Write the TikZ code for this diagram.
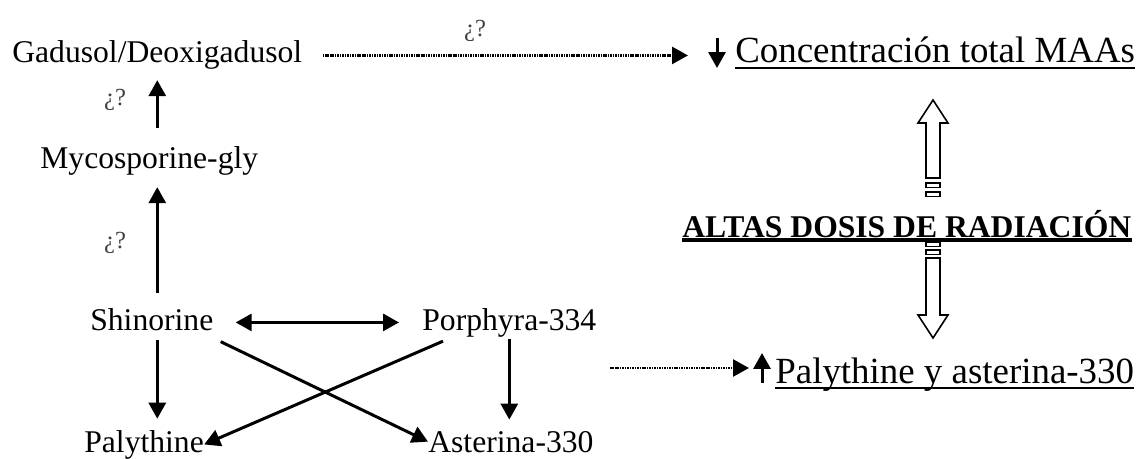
\documentclass[tikz,border=0pt]{standalone}
\usepackage{fontspec}
\setmainfont{Liberation Serif}
\usepackage{xcolor}
\usepackage{tikz}
\usetikzlibrary{arrows.meta,positioning,calc}

\tikzset{
  lbl/.style={inner sep=0pt, anchor=base west, font=\fontsize{18}{20}\selectfont},
  big/.style={inner sep=0pt, anchor=base west, font=\fontsize{21}{24}\selectfont},
  qm/.style={inner sep=0pt, font=\fontsize{14}{16}\selectfont, text=black!75},
  arr/.style={line width=1.7pt, ->},
  dots/.style={line width=1.5pt, dash pattern=on 0.9pt off 0.5pt, ->},
  hollow/.style={draw, line width=0.9pt, fill=white}
}

\begin{document}
\begin{tikzpicture}[x=0.02cm, y=-0.02cm, >={Triangle[length=0.32cm,width=0.34cm]}]
  \useasboundingbox (0,0) rectangle (1142,459);

  % Compounds
  \node[lbl] (gad) at (12,63) {Gadusol/Deoxigadusol};
  \node[lbl] (myco) at (40,169) {Mycosporine-gly};
  \node[lbl] (shin) at (90,330) {Shinorine};
  \node[lbl] (por) at (422,330) {Porphyra-334};
  \node[lbl] (paly) at (84,452) {Palythine};
  \node[lbl] (aster) at (428,452) {Asterina-330};

  % Effects
  \node[big] (conc) at (735,63) {Concentración total MAAs};
  \node[big] (pa330) at (775,383) {Palythine y asterina-330};
  \node[lbl, font=\bfseries\fontsize{18}{20}\selectfont] (dosis) at (682,237) {ALTAS DOSIS DE RADIACIÓN};

  % Pathway
  \draw[arr, shorten <=0.38cm, shorten >=0.2cm] (myco.north -| gad.south) -- (gad.south);
  \draw[arr, shorten <=0.3cm, shorten >=0.22cm] (shin.north -| gad.south) -- (myco.south -| gad.south);
  \draw[<->, line width=1.7pt, shorten <=0.44cm, shorten >=0.46cm] (por.west -| shin.east) -- (por.west);
  \draw[arr, shorten <=0.18cm, shorten >=0.22cm] (shin.south -| gad.south) -- (paly.north -| gad.south);
  \draw[arr, shorten <=0.04cm, shorten >=0.22cm] (por.south) -- (aster.north -| por.south);
  \draw[arr] ([xshift=0.14cm, yshift=-0.22cm]shin.south east) -- (aster.west);
  \draw[arr] ([xshift=0.42cm, yshift=-0.08cm]por.south west) -- (paly.east);

  \node[qm] (q1) at (475,31) {¿?};
  \node[qm] (q2) at (115,100) {¿?};
  \node[qm] (q3) at (115,243) {¿?};

  % Dotted links
  \coordinate (dose) at (610,368);
  \draw[dots, shorten <=0.4cm, shorten >=0.94cm] (gad.east) -- (gad.east -| conc.west);
  \draw[dots, shorten >=0.52cm] (dose) -- (dose -| pa330.west);

  % Up / down marks and underlines
  \draw[arr] ($(conc.base west)+(-18,-25)$) -- ($(conc.base west)+(-18,5)$);
  \draw[arr] ($(pa330.base west)+(-13,0)$) -- ($(pa330.base west)+(-13,-30)$);
  \draw[line width=0.9pt] ($(conc.base west)+(0,5)$) -- ($(conc.base east)+(0,5)$);
  \draw[line width=0.9pt] ($(pa330.base west)+(0,5)$) -- ($(pa330.base east)+(0,5)$);

  % Hollow double arrow
  \draw[hollow] (926,178) -- (926,123) -- (918,123) -- (933,100) -- (948,123) -- (940,123) -- (940,178) -- cycle;
  \draw[hollow] (926,258) -- (926,315) -- (918,315) -- (933,338) -- (948,315) -- (940,315) -- (940,258) -- cycle;
  \foreach \y in {183,192,242,250}
    \draw[hollow] (926,\y) rectangle (940,\y+4.5);
  \draw[line width=1.8pt] ($(dosis.base west)+(0,3)$) -- ($(dosis.base east)+(0,3)$);
\end{tikzpicture}
\end{document}
